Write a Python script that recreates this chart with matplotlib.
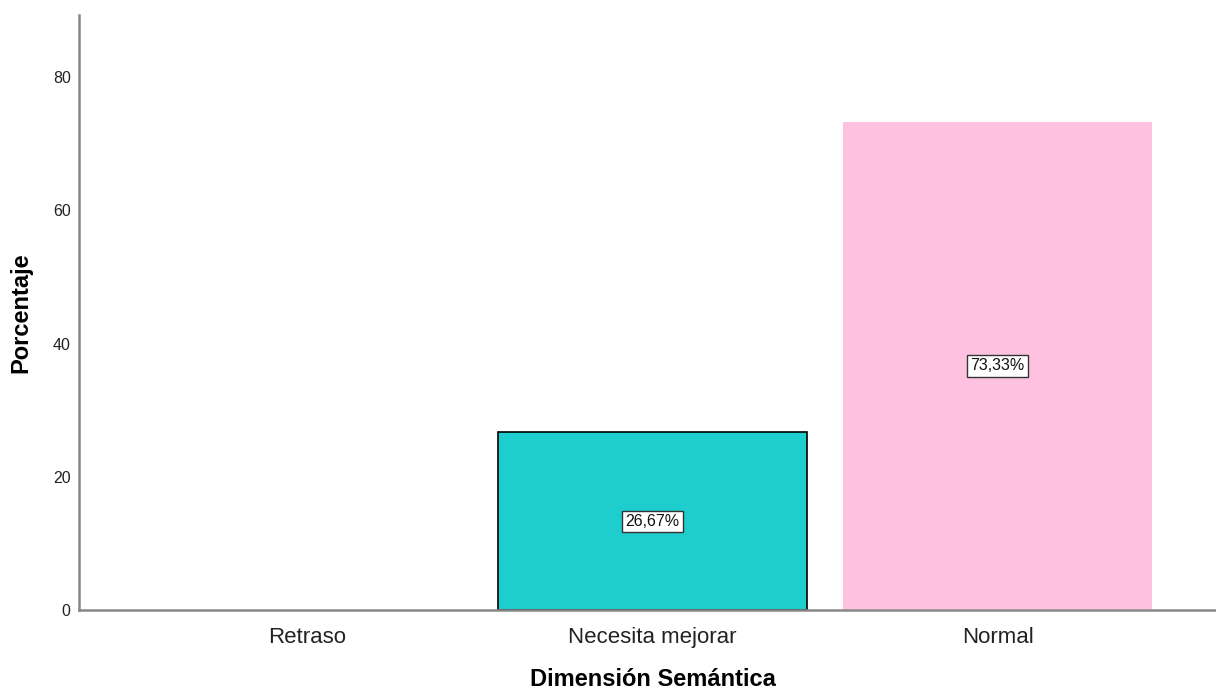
import matplotlib.pyplot as plt

categories = ['Retraso', 'Necesita mejorar', 'Normal']
percentages = [0.0, 26.67, 73.33]
bar_colors = ['#1ecdcd', '#1ecdcd', '#fec2e0']
edge_colors = ['black', 'black', 'none']
value_labels = ['', '26,67%', '73,33%']
yticks = [0, 20, 40, 60, 80]

plt.rcParams['font.family'] = ['Liberation Sans', 'DejaVu Sans']

fig = plt.figure(figsize=(12.16, 6.91), dpi=100)
ax = fig.add_axes([0.065, 0.117, 0.935, 0.861])

x = range(len(categories))
for i in x:
    if percentages[i] <= 0:
        continue
    ax.bar(i, percentages[i], width=0.896, color=bar_colors[i],
           edgecolor=edge_colors[i], linewidth=1.2, zorder=2)
    ax.text(i, percentages[i] / 2, value_labels[i], ha='center', va='center',
            fontsize=11.5, color='#111111', zorder=3,
            bbox=dict(boxstyle='square,pad=0.2', facecolor='white',
                      edgecolor='#333333', linewidth=1.0))

ax.set_xlim(-0.662, 2.633)
ax.set_ylim(0, 89.3)
ax.set_xticks(list(x))
ax.set_xticklabels(categories, fontsize=16, color='#222222')
ax.set_yticks(yticks)
ax.set_yticklabels([str(t) for t in yticks], fontsize=11.5, color='#222222')
ax.tick_params(axis='x', length=0, pad=12)
ax.tick_params(axis='y', length=0, pad=6)

for side in ['top', 'right']:
    ax.spines[side].set_visible(False)
for side in ['left', 'bottom']:
    ax.spines[side].set_color('#888888')
    ax.spines[side].set_linewidth(1.8)

ax.set_xlabel('Dimensión Semántica', fontsize=17, fontweight='bold')
ax.set_ylabel('Porcentaje', fontsize=17, fontweight='bold')
ax.xaxis.set_label_coords(0.5045, -0.097)
ax.yaxis.set_label_coords(-0.041, 0.5)

fig.savefig('out.png', dpi=100)
